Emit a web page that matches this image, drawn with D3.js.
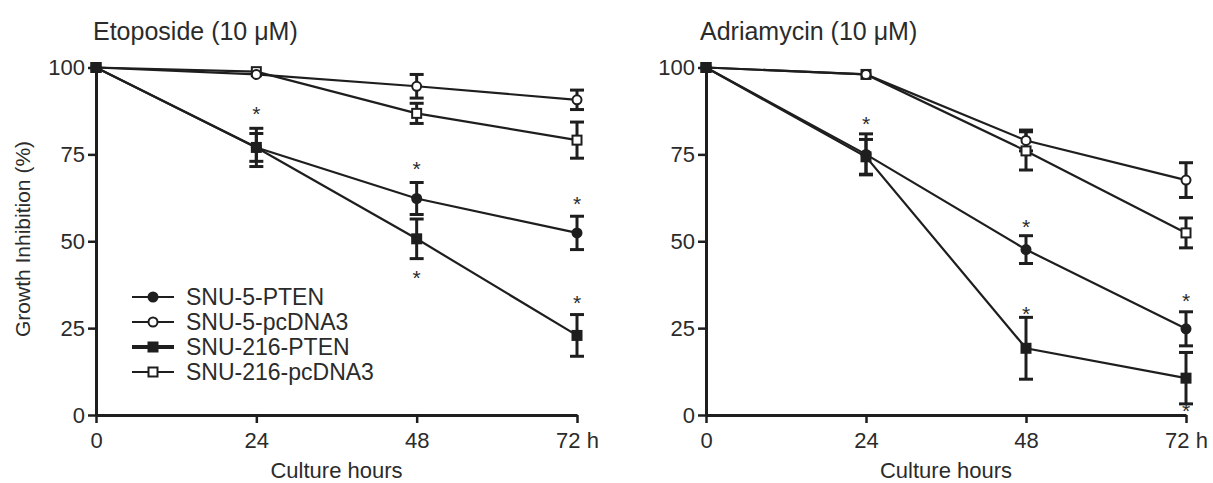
<!DOCTYPE html>
<html>
<head>
<meta charset="utf-8">
<script src="https://cdn.jsdelivr.net/npm/d3@7"></script>
<style>
    body { margin: 0; background: #fff; }
    svg text { font-family: "Liberation Sans", Arial, sans-serif; fill: #2b2b2b; }
</style>
</head>
<body>
<div id="chart"></div>
<script>

// shared axes
const hours = [0, 24, 48, 72];
const hourLabels = ["0", "24", "48", "72 h"];
const yTickValues = [0, 25, 50, 75, 100];
const seriesNames = ["SNU-5-PTEN", "SNU-5-pcDNA3", "SNU-216-PTEN", "SNU-216-pcDNA3"];

// Etoposide panel (growth inhibition %, mean and error)
const etoposideMean = [
    [100, 77, 62.3, 52.4],
    [100, 98, 94.6, 90.7],
    [100, 77, 50.7, 22.9],
    [100, 98.8, 86.8, 79.1]
];
const etoposideErr = [
    [0, 5.5, 4.6, 4.8],
    [0, 0, 3.4, 2.8],
    [0, 4, 5.7, 6],
    [0, 0, 2.9, 5.2]
];
const etoposideStarHours = [24, 48, 48, 72, 72];
const etoposideStarValues = [87.7, 72, 40.5, 61.8, 33.3];

// Adriamycin panel
const adriamycinMean = [
    [100, 75, 47.6, 24.8],
    [100, 98, 79, 67.6],
    [100, 74.3, 19.2, 10.6],
    [100, 98, 76, 52.4]
];
const adriamycinErr = [
    [0, 5.9, 4, 4.9],
    [0, 0, 3, 5],
    [0, 5, 8.9, 7.4],
    [0, 0, 5.5, 4.3]
];
const adriamycinStarHours = [24, 48, 48, 72, 72];
const adriamycinStarValues = [84.8, 55.3, 30.3, 34.1, 2.2];

const ink = "#1e1e1e";

let svg = d3.select("#chart").append("svg")
    .attr("width", 1213)
    .attr("height", 483);

function drawPanel(opts) {
    let x = d3.scaleLinear().domain([0, 72]).range([opts.left, opts.right]);
    let y = d3.scaleLinear().domain([0, 100]).range([415, 67.5]);

    let g = svg.append("g");

    // title
    g.append("text")
        .attr("x", opts.titleX)
        .attr("y", 40)
        .attr("font-size", 25)
        .text(opts.title);

    // axes
    let xAxis = g.append("g")
        .attr("transform", `translate(0, ${y(0)})`)
        .call(d3.axisBottom(x).tickValues(hours)
            .tickFormat((d, i) => hourLabels[i])
            .tickSize(8).tickPadding(9).tickSizeOuter(0));

    let yAxis = g.append("g")
        .attr("transform", `translate(${x(0)}, 0)`)
        .call(d3.axisLeft(y).tickValues(yTickValues)
            .tickSize(8).tickPadding(3).tickSizeOuter(0));

    [xAxis, yAxis].forEach(a => {
        a.select(".domain").attr("stroke", ink).attr("stroke-width", 3);
        a.selectAll(".tick line").attr("stroke", ink).attr("stroke-width", 2.5);
        a.selectAll(".tick text").attr("font-size", 22).attr("fill", "#2b2b2b")
            .attr("font-family", "'Liberation Sans', Arial, sans-serif");
    });

    g.append("text")
        .attr("x", (opts.left + opts.right) / 2)
        .attr("y", 478)
        .attr("text-anchor", "middle")
        .attr("font-size", 22)
        .text("Culture hours");

    let line = d3.line()
        .x((d, i) => x(hours[i]))
        .y(d => y(d));

    // lines
    opts.mean.forEach((vals, s) => {
        g.append("path")
            .datum(vals)
            .attr("d", line)
            .attr("fill", "none")
            .attr("stroke", ink)
            .attr("stroke-width", 2.2);
    });

    // error bars
    opts.mean.forEach((vals, s) => {
        vals.forEach((v, i) => {
            let e = opts.err[s][i];
            if (!e) return;
            let cx = x(hours[i]);
            let eg = g.append("g").attr("stroke", ink).attr("stroke-width", 3);
            eg.append("line").attr("x1", cx).attr("x2", cx).attr("y1", y(v + e)).attr("y2", y(v - e));
            eg.append("line").attr("x1", cx - 7).attr("x2", cx + 7).attr("y1", y(v + e)).attr("y2", y(v + e));
            eg.append("line").attr("x1", cx - 7).attr("x2", cx + 7).attr("y1", y(v - e)).attr("y2", y(v - e));
        });
    });

    // markers: open ones first, filled on top
    [3, 1, 2, 0].forEach(s => {
        opts.mean[s].forEach((v, i) => {
            addMarker(g, s, x(hours[i]), y(v));
        });
    });

    // significance stars
    g.selectAll(".star")
        .data(opts.starHours)
        .enter().append("text")
        .attr("class", "star")
        .attr("x", d => x(d))
        .attr("y", (d, i) => y(opts.starValues[i]) + 11)
        .attr("text-anchor", "middle")
        .attr("font-size", 21)
        .text("*");
}

function addMarker(g, s, cx, cy) {
    if (s === 0) {
        g.append("circle").attr("cx", cx).attr("cy", cy).attr("r", 5.5).attr("fill", ink);
    } else if (s === 1) {
        g.append("circle").attr("cx", cx).attr("cy", cy).attr("r", 4.5)
            .attr("fill", "#fff").attr("stroke", ink).attr("stroke-width", 2);
    } else if (s === 2) {
        g.append("rect").attr("x", cx - 5.5).attr("y", cy - 5.5).attr("width", 11).attr("height", 11).attr("fill", ink);
    } else {
        g.append("rect").attr("x", cx - 4.5).attr("y", cy - 4.5).attr("width", 9).attr("height", 9)
            .attr("fill", "#fff").attr("stroke", ink).attr("stroke-width", 2);
    }
}

drawPanel({
    title: "Etoposide (10 \u03bcM)", titleX: 93,
    left: 96, right: 577,
    mean: etoposideMean, err: etoposideErr,
    starHours: etoposideStarHours, starValues: etoposideStarValues
});

drawPanel({
    title: "Adriamycin (10 \u03bcM)", titleX: 700,
    left: 706, right: 1186,
    mean: adriamycinMean, err: adriamycinErr,
    starHours: adriamycinStarHours, starValues: adriamycinStarValues
});

// y axis label (left panel only)
svg.append("text")
    .attr("transform", "translate(30, 239) rotate(-90)")
    .attr("text-anchor", "middle")
    .attr("font-size", 21)
    .text("Growth Inhibition (%)");

// legend
let legend = svg.append("g");
seriesNames.forEach((name, s) => {
    let ly = 297 + s * 25;
    legend.append("line")
        .attr("x1", 132).attr("x2", 174).attr("y1", ly).attr("y2", ly)
        .attr("stroke", ink).attr("stroke-width", s === 2 ? 4 : 2);
    addMarker(legend, s, 153, ly);
    legend.append("text")
        .attr("x", 186).attr("y", ly + 8)
        .attr("font-size", 23)
        .text(name);
});

</script>
</body>
</html>
